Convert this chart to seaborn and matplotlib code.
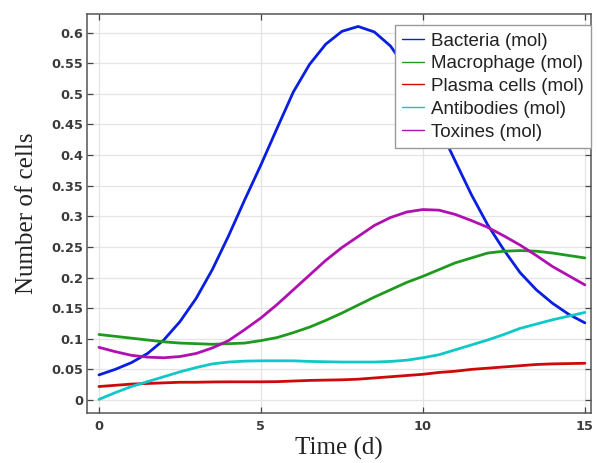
import numpy as np
import pandas as pd
import matplotlib
matplotlib.use("Agg")
import matplotlib.pyplot as plt
import seaborn as sns

# time in days, values every half day
time_d = np.arange(0, 15.01, 0.5)

bacteria = [0.041, 0.050, 0.061, 0.076, 0.098, 0.128, 0.166, 0.213, 0.268, 0.327,
            0.384, 0.444, 0.503, 0.548, 0.581, 0.602, 0.610, 0.601, 0.578, 0.540,
            0.495, 0.445, 0.390, 0.335, 0.286, 0.245, 0.208, 0.180, 0.158, 0.140, 0.126]
macrophage = [0.107, 0.104, 0.101, 0.098, 0.095, 0.093, 0.092, 0.091, 0.092, 0.093,
              0.097, 0.102, 0.110, 0.119, 0.130, 0.142, 0.155, 0.168, 0.180, 0.192,
              0.202, 0.213, 0.224, 0.232, 0.240, 0.243, 0.244, 0.243, 0.240, 0.236, 0.232]
plasma = [0.022, 0.024, 0.026, 0.027, 0.028, 0.029, 0.029, 0.0295, 0.0297, 0.0297,
          0.0297, 0.030, 0.031, 0.032, 0.0325, 0.033, 0.034, 0.036, 0.038, 0.040,
          0.042, 0.045, 0.047, 0.050, 0.052, 0.054, 0.056, 0.058, 0.059, 0.0595, 0.060]
antibodies = [0.001, 0.012, 0.022, 0.030, 0.038, 0.046, 0.053, 0.059, 0.062, 0.0635,
              0.064, 0.064, 0.064, 0.063, 0.0625, 0.062, 0.062, 0.062, 0.063, 0.065,
              0.069, 0.074, 0.082, 0.090, 0.098, 0.107, 0.117, 0.124, 0.131, 0.137, 0.143]
toxines = [0.086, 0.079, 0.073, 0.070, 0.069, 0.071, 0.076, 0.085, 0.097, 0.115,
           0.134, 0.156, 0.180, 0.204, 0.228, 0.249, 0.267, 0.285, 0.298, 0.307,
           0.311, 0.310, 0.303, 0.293, 0.282, 0.268, 0.253, 0.236, 0.218, 0.203, 0.188]

labels = ["Bacteria (mol)", "Macrophage (mol)", "Plasma cells (mol)",
          "Antibodies (mol)", "Toxines (mol)"]
colors = ["#0a1ee0", "#1f9a1f", "#cc0a0a", "#10c8c8", "#b010b0"]

xticks = [0, 5, 10, 15]
yticks = np.round(np.arange(0, 0.601, 0.05), 2)
ytick_labels = ["0", "0.05", "0.1", "0.15", "0.2", "0.25", "0.3", "0.35",
                "0.4", "0.45", "0.5", "0.55", "0.6"]

rows = []
for name, vals in zip(labels, [bacteria, macrophage, plasma, antibodies, toxines]):
    for t, v in zip(time_d, vals):
        rows.append({"time": t, "value": v, "series": name})
df = pd.DataFrame(rows)

sns.set_style("white")
plt.rcParams["font.family"] = ["Liberation Sans", "DejaVu Sans"]

fig = plt.figure(figsize=(5.97, 4.63), dpi=100)
ax = fig.add_axes([0.1457, 0.108, 0.8443, 0.862])

sns.lineplot(data=df, x="time", y="value", hue="series", hue_order=labels,
             palette=dict(zip(labels, colors)), linewidth=2.0, ax=ax,
             legend=False, sort=False, solid_joinstyle="round",
             solid_capstyle="round")

ax.set_xlim(-0.37, 15.19)
ax.set_ylim(-0.0212, 0.6305)
ax.set_xticks(xticks)
ax.set_xticklabels([str(t) for t in xticks])
ax.set_yticks(yticks)
ax.set_yticklabels(ytick_labels)
ax.grid(True, color="#e4e4e4", linewidth=0.9)
ax.tick_params(direction="in", length=4, width=0.9, colors="#444444",
               top=True, right=True, left=True, bottom=True)
ax.tick_params(axis="y", pad=2.6)
ax.tick_params(axis="x", pad=5)
for lab in ax.get_xticklabels() + ax.get_yticklabels():
    lab.set_family("DejaVu Sans")
    lab.set_fontweight("bold")
    lab.set_fontsize(9.3)
    lab.set_color("#3a3a3a")
for s in ax.spines.values():
    s.set_color("#555555")
    s.set_linewidth(1.1)

ax.set_xlabel("Time (d)", family="Liberation Serif", fontsize=18, color="#222222",
              labelpad=3)
ax.set_ylabel("Number of cells", family="Liberation Serif", fontsize=18,
              color="#222222", labelpad=10)

handles = [plt.Line2D([], [], color=c, linewidth=1.0) for c in colors]
leg = ax.legend(handles, labels, loc="upper right", bbox_to_anchor=(1.0, 0.9724),
                fontsize=13.5, labelspacing=0.3, handlelength=1.16,
                handletextpad=0.36, borderpad=0.4, borderaxespad=0,
                fancybox=False, framealpha=1, edgecolor="#999999")
leg.get_frame().set_linewidth(1.0)
for t in leg.get_texts():
    t.set_color("#222222")

fig.savefig("out.png", dpi=100)
